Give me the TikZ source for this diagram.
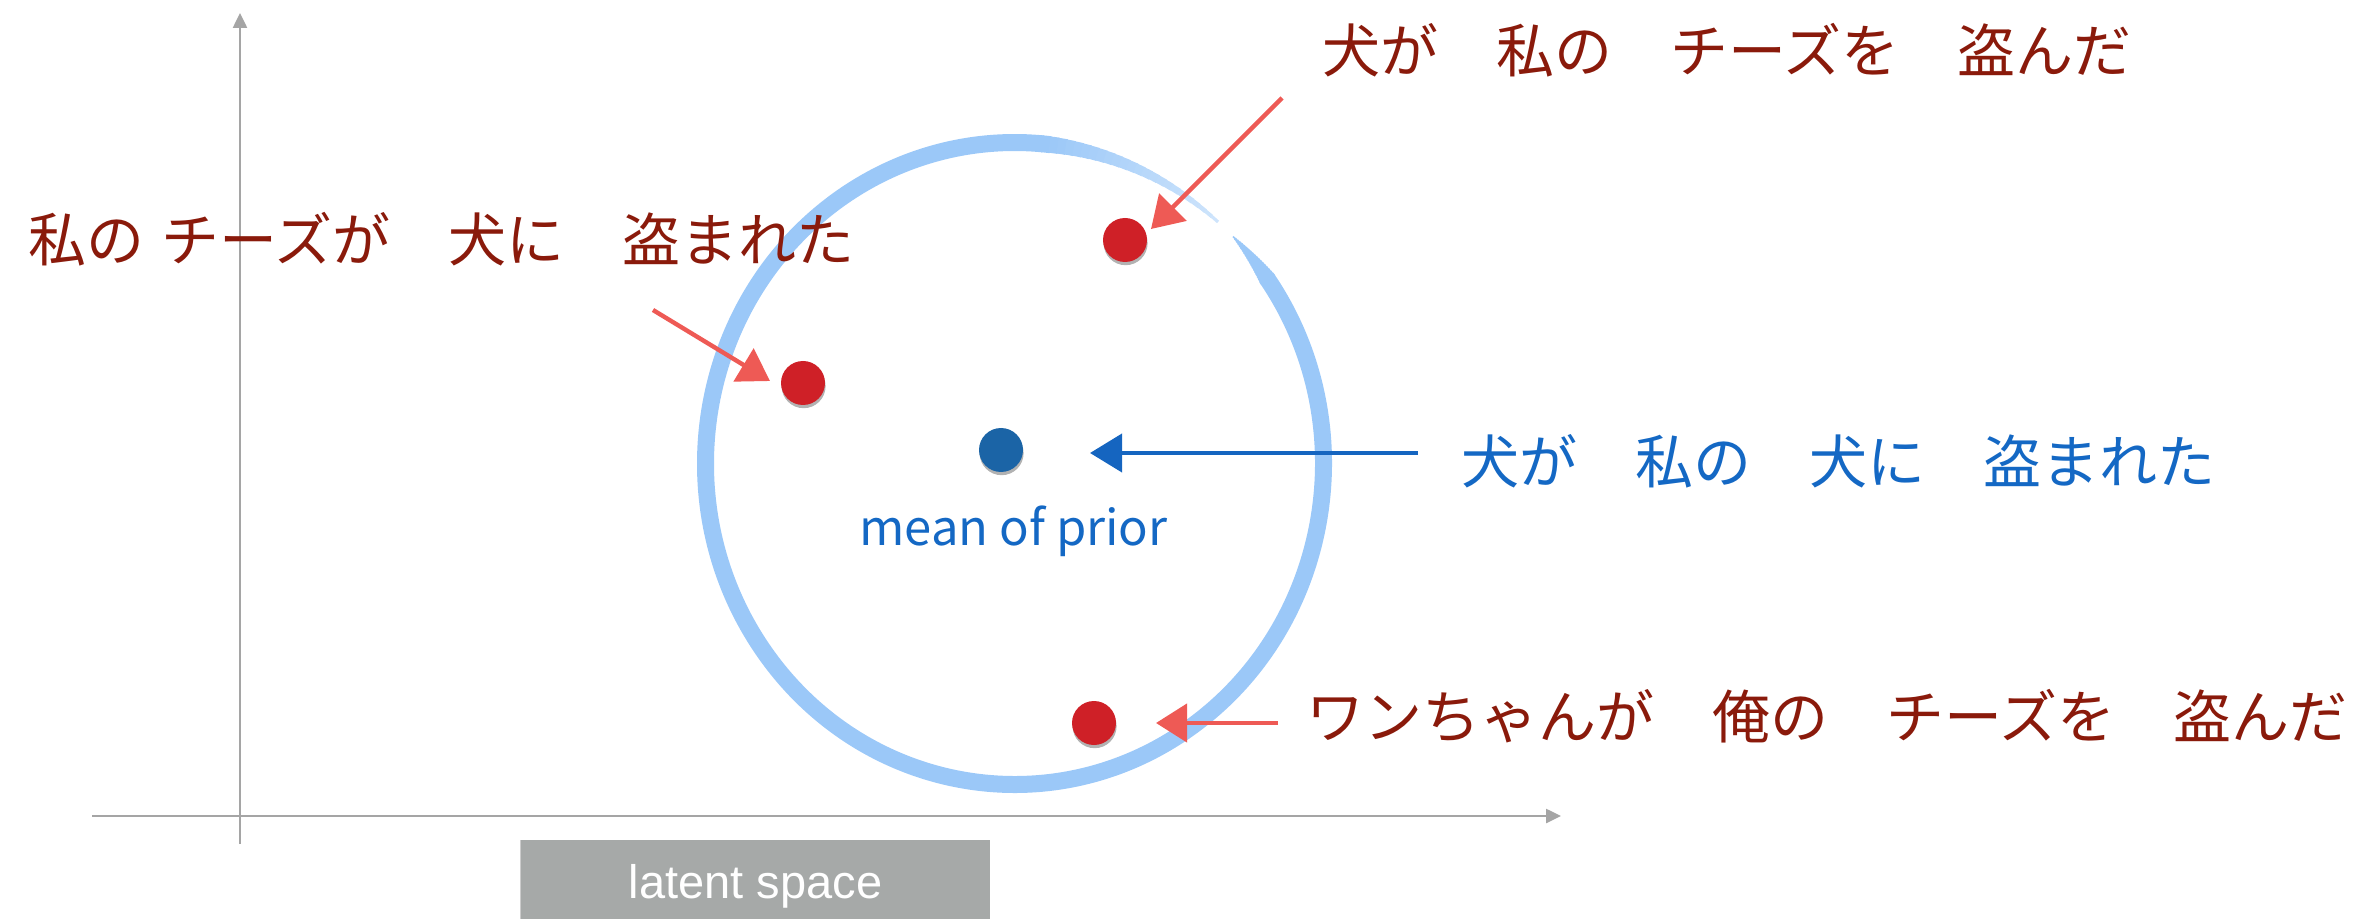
\documentclass[tikz,border=0pt]{standalone}
\usepackage{fontspec}
\setmainfont{Liberation Sans}
\newfontfamily\jpfont{Noto Sans CJK JP}
\usetikzlibrary{arrows.meta,shadows}
\definecolor{txtred}{HTML}{8A1A0B}
\definecolor{txtblue}{HTML}{1468C4}
\definecolor{dotred}{HTML}{CF2027}
\definecolor{dotblue}{HTML}{1B64A6}
\definecolor{arrred}{HTML}{EE5A55}
\definecolor{arrblue}{HTML}{1565C0}
\definecolor{ringblue}{HTML}{9BC8F8}
\definecolor{axisgray}{HTML}{A5A5A5}
\definecolor{boxgray}{HTML}{A6A9A8}
\tikzset{
  axisline/.style={draw=axisgray, line width=1.25pt, -{Triangle[length=7.5pt,width=7pt]}},
  ring/.style={draw=ringblue, line cap=butt},
  dotstyle/.style={circle, inner sep=0pt, minimum size=22pt,
    drop shadow={shadow xshift=0.3pt, shadow yshift=-1.6pt, opacity=0.3, fill=black}},
  reddot/.style={dotstyle, fill=dotred},
  bluedot/.style={dotstyle, fill=dotblue},
  jptext/.style={inner sep=0pt, anchor=base west, font=\jpfont\fontsize{29pt}{35pt}\selectfont},
  redarrow/.style={draw=arrred, line width=2.2pt, -{Triangle[length=15.5pt,width=19pt]}},
  bluearrow/.style={draw=arrblue, line width=2pt, -{Triangle[length=16pt,width=19pt]}},
}
\begin{document}
\begin{tikzpicture}[x=0.5pt,y=-0.5pt]
\useasboundingbox (0,0) rectangle (2366,919);
% axes
\coordinate (yaxB) at (240,844);
\coordinate (yaxT) at (240,13);
\coordinate (xaxL) at (92,816);
\coordinate (xaxR) at (1561,816);
\draw[axisline] (yaxB) -- (yaxT);
\draw[axisline] (xaxL) -- (xaxR);
% latent space label
\node[fill=boxgray, text=white, anchor=base, inner xsep=0pt, inner ysep=0pt,
  minimum width=234.5pt, text height=29pt, text depth=13.5pt,
  font=\fontsize{23.5pt}{28pt}\selectfont,
  drop shadow={shadow xshift=-0.6pt, shadow yshift=0pt, opacity=0.2, fill=black}]
  (latent) at (755.5,898) {latent space};
% ring (hand-drawn look: tapered ends around a small gap at upper right)
\coordinate (ringc) at (1014.5,463.5);
\foreach \i in {0,...,19}{
  \pgfmathsetmacro\aa{-45+\i*0.5}
  \pgfmathsetmacro\bb{\aa+0.7}
  \pgfmathsetmacro\ww{0.8+\i*0.4}
  \draw[ring, line width=\ww pt] (ringc) ++(\aa:309 and 321) arc[start angle=\aa, end angle=\bb, x radius=309, y radius=321];
}
\draw[ring, line width=8.5pt] (ringc) ++(-35.3:309 and 321) arc[start angle=-35.3, end angle=275.3, x radius=309, y radius=321];
\foreach \i in {0,...,23}{
  \pgfmathsetmacro\aa{275+\i*1.5}
  \pgfmathsetmacro\bb{\aa+1.7}
  \pgfmathsetmacro\ww{8.5-\i*0.3}
  \pgfmathsetmacro\pp{100-\i*2.2}
  \draw[ring, draw=ringblue!\pp!white, line width=\ww pt] (ringc) ++(\aa:309 and 321) arc[start angle=\aa, end angle=\bb, x radius=309, y radius=321];
}
% dots
\node[bluedot] (mean) at (1001,450) {};
\node[reddot] (d1) at (1125,240) {};
\node[reddot] (d2) at (803,383) {};
\node[reddot] (d3) at (1094,723) {};
\node[inner sep=0pt, anchor=base, text=txtblue, font=\jpfont\fontsize{24.5pt}{30pt}\selectfont]
  (meanlbl) at (1013.5,545) {mean of prior};
% texts
\node[jptext, text=txtred] (t1) at (1322,73) {犬が　私の　チーズを　盗んだ};
\node[jptext, text=txtred] (t2) at (28,262) {私の\hspace{0.3em}チーズが　犬に　盗まれた};
\node[jptext, text=txtblue] (t3) at (1461,483) {犬が　私の　犬に　盗まれた};
\node[jptext, text=txtred] (t4) at (1306,738) {ワンちゃんが　俺の　チーズを　盗んだ};
% arrows
\coordinate (a1s) at (1282,98);
\coordinate (a1t) at (1151,229);
\coordinate (a2s) at (653,310);
\coordinate (a2t) at (770,381);
\coordinate (a3s) at (1278,723);
\coordinate (a3t) at (1156,723);
\coordinate (a4s) at (1418,453);
\coordinate (a4t) at (1090,453);
\draw[redarrow] (a1s) -- (a1t);
\draw[redarrow] (a2s) -- (a2t);
\draw[redarrow] (a3s) -- (a3t);
\draw[bluearrow] (a4s) -- (a4t);
\end{tikzpicture}
\end{document}
